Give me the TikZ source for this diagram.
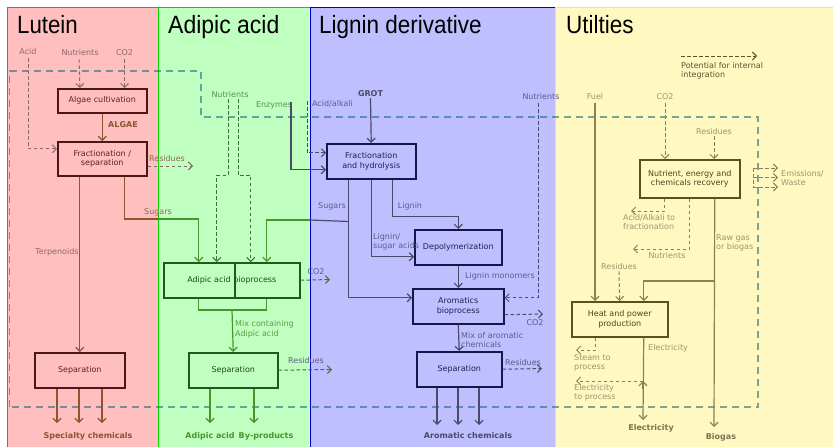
\documentclass[tikz,border=0pt]{standalone}
\usepackage{fontspec}
\setmainfont{DejaVu Sans}
\newfontfamily\titlefont{Liberation Sans}
\usetikzlibrary{arrows.meta,calc}

% panel colours
\definecolor{lutbg}{HTML}{FFBFBF}\definecolor{lutedge}{HTML}{FF3A3A}
\definecolor{adibg}{HTML}{BFFFBF}\definecolor{adiedge}{HTML}{00D800}
\definecolor{ligbg}{HTML}{BFBFFF}\definecolor{ligedge}{HTML}{0000C8}
\definecolor{utibg}{HTML}{FFF8C0}\definecolor{utiedge}{HTML}{FFEE30}
% per-process colours
\definecolor{lutbox}{HTML}{4A1616}\definecolor{luttxt}{HTML}{5A2222}
\definecolor{lutarr}{HTML}{8A5530}\definecolor{lutlab}{HTML}{8E6A5A}
\definecolor{lutin}{HTML}{8A6868}
\definecolor{adibox}{HTML}{1E5A1E}\definecolor{aditxt}{HTML}{1E4A1E}
\definecolor{adiarr}{HTML}{4A942C}\definecolor{adilab}{HTML}{5A9E42}
\definecolor{adiin}{HTML}{3E6E3E}\definecolor{adiinlab}{HTML}{5E8A5E}
\definecolor{ligbox}{HTML}{16164A}\definecolor{ligtxt}{HTML}{202050}
\definecolor{ligarr}{HTML}{4A4A6A}\definecolor{liglab}{HTML}{5C5C8A}
\definecolor{utibox}{HTML}{5A5020}\definecolor{utitxt}{HTML}{4A4420}
\definecolor{utiarr}{HTML}{8A8050}\definecolor{utilab}{HTML}{9C9670}
\definecolor{utibold}{HTML}{7A7450}\definecolor{utinote}{HTML}{5A5530}
\definecolor{integ}{HTML}{1E6E78}

\tikzset{
  tip/.style={-{Straight Barb[length=4pt,width=8pt]}},
  conn/.style={line width=1.2pt},
  sdash/.style={line width=1pt, dash pattern=on 3.5pt off 2.5pt},
  procbox/.style={draw, line width=1.5pt, rectangle, inner sep=0pt, anchor=north west, align=center},
  lbl/.style={inner sep=1pt, align=center},
  lbll/.style={inner sep=1pt, align=left, anchor=west},
  boldlbl/.style={inner sep=1pt, font=\fontsize{8}{9.5}\selectfont\bfseries},
  title/.style={anchor=base west, inner sep=0pt, font=\titlefont\fontsize{25}{25}\selectfont},
  integline/.style={draw=integ, draw opacity=0.6, line width=1.3pt, dash pattern=on 7pt off 5pt},
}

\begin{document}
\begin{tikzpicture}[x=1pt, y=-1pt, font=\fontsize{8}{9.5}\selectfont]
\useasboundingbox (0,0) rectangle (833,447);
\fill[white] (0,0) rectangle (833,447);

% ---------- panels ----------
\draw[fill=lutbg, draw=lutedge, line width=1pt] (7,7) rectangle (158,452);
\draw[fill=adibg, draw=adiedge, line width=1pt] (158,7) rectangle (310,452);
\draw[fill=ligbg, draw=ligedge, line width=1pt] (310,7) rectangle (555,452);
\draw[fill=utibg, draw=utiedge, line width=1pt] (555,7) rectangle (840,452);

\node[title] (tlut) at (17,33) {\scalebox{0.89}[1]{Lutein}};
\node[title] (tadi) at (168,33) {\scalebox{0.92}[1]{Adipic acid}};
\node[title] (tlig) at (319,33) {\scalebox{0.9}[1]{Lignin derivative}};
\node[title] (tuti) at (566,33) {\scalebox{0.9}[1]{Utilties}};

% ---------- boundary of internal integration ----------
\draw[integline] (9.5,407) -- (9.5,71) -- (201,71) -- (201,117) -- (758,117) -- (758,407) -- cycle;

% ---------- Lutein ----------
\node[procbox, draw=lutbox, text=luttxt, minimum width=89pt, minimum height=24pt] (alg) at (57,88) {Algae cultivation};
\node[procbox, draw=lutbox, text=luttxt, minimum width=89pt, minimum height=34pt] (frs) at (57,141) {Fractionation /\\separation};
\node[procbox, draw=lutbox, text=luttxt, minimum width=90pt, minimum height=35pt] (lsep) at (34,352) {Separation};

\node[lbl, text=lutin] (lacid) at (28,52) {Acid};
\node[lbl, text=lutin] (lnut) at (80,53) {Nutrients};
\node[lbl, text=lutin] (lco2) at (124.5,53) {CO2};
\draw[sdash, lutin, tip] ([yshift=-2pt]lacid.south) |- ([yshift=10pt]frs.west);
\draw[sdash, lutin, tip] ([xshift=-1pt,yshift=-2pt]lnut.south) -- (alg.north -| lnut.south);
\draw[sdash, lutin, tip] ([yshift=-2pt]lco2.south) -- (alg.north -| lco2.south);

\draw[conn, lutarr, tip] (alg.south) -- (frs.north);
\node[boldlbl, text=lutarr] (lalg) at (123,125) {ALGAE};

\draw[conn, lutarr, tip] (lsep.north |- frs.south) -- (lsep.north);
\node[lbl, text=lutlab] (lterp) at (57,252) {Terpenoids};

\coordinate (sugl) at (158,219);
\draw[conn, lutarr] ([xshift=22.5pt]frs.south) |- (sugl);
\node[lbl, text=lutlab] (lsug) at (158,212) {Sugars};

\coordinate (lres) at (193,166);
\draw[sdash, lutin, tip] (frs.east |- lres) -- (lres);
\node[lbl, text=lutlab] (lreslab) at (167,158.5) {Residues};

\node[boldlbl, text=lutarr] (lspec) at (88,436) {Specialty chemicals};
\coordinate (lo1) at (57,423);\coordinate (lo2) at (79,423);\coordinate (lo3) at (102,423);
\foreach \o in {lo1,lo2,lo3} \draw[conn, lutarr, tip] (lsep.south -| \o) -- (\o);

% ---------- Adipic acid ----------
\node[procbox, draw=adibox, text=aditxt, minimum width=136pt, minimum height=35pt] (adbio) at (163,262) {Adipic acid bioprocess};
\draw[adibox, line width=1.5pt] ([xshift=3pt]adbio.north) -- ([xshift=3pt]adbio.south);
\node[procbox, draw=adibox, text=aditxt, minimum width=89pt, minimum height=35pt] (asep) at (188,352) {Separation};

\draw[conn, adiarr, tip] (sugl) -| ([xshift=-33pt]adbio.north);

\node[lbl, text=adiinlab] (anut) at (230,95) {Nutrients};
\draw[sdash, adiin, tip] ([xshift=-2pt]anut.south) -- ++(0,76) -| ([xshift=-15pt]adbio.north);
\draw[sdash, adiin, tip] ([xshift=8pt]anut.south) -- ++(0,76) -| ([xshift=19pt]adbio.north);

\coordinate (amix) at (232,310);
\draw[conn, adiarr] ([xshift=-33pt]adbio.south) |- (amix) -| ([xshift=35pt]adbio.south);
\draw[conn, adiarr, tip] (amix) -- (asep.north);
\node[lbll, text=adilab] (amixlab) at (234,329.5) {Mix containing\\Adipic acid};

\coordinate (aco2) at (330,279.5);
\draw[sdash, adiin, tip] (adbio.east) -- (aco2);
\node[lbl, text=liglab] (aco2lab) at (316,272) {CO2};

\coordinate (ares) at (332,369.5);
\draw[sdash, adiin, tip] (asep.east) -- (ares);
\node[lbl, text=liglab] (areslab) at (306,361) {Residues};

\node[boldlbl, text=adiarr] (aout1) at (210,436) {Adipic acid};
\node[boldlbl, text=adiarr] (aout2) at (266,436) {By-products};
\coordinate (ao1) at (210,423);\coordinate (ao2) at (254,423);
\foreach \o in {ao1,ao2} \draw[conn, adiarr, tip] (asep.south -| \o) -- (\o);

% ---------- Lignin derivative ----------
\node[procbox, draw=ligbox, text=ligtxt, minimum width=89pt, minimum height=35pt] (fh) at (326,143) {Fractionation\\and hydrolysis};
\node[procbox, draw=ligbox, text=ligtxt, minimum width=87pt, minimum height=35pt] (dep) at (414,229) {Depolymerization};
\node[procbox, draw=ligbox, text=ligtxt, minimum width=91pt, minimum height=35pt] (arb) at (412,288) {Aromatics\\bioprocess};
\node[procbox, draw=ligbox, text=ligtxt, minimum width=85pt, minimum height=35pt] (gsep) at (416,351) {Separation};

\node[boldlbl, text=ligarr] (grot) at (370.5,94) {GROT};
\draw[conn, ligarr, tip] (grot.south) -- (fh.north);

\node[lbl, text=adiinlab] (enz) at (274,105) {Enzymes};
\coordinate (enzt) at (291,102);
\draw[conn, ligarr, tip] (enzt) |- ([yshift=-8.5pt]fh.west);

\node[lbl, text=liglab] (acal) at (332.5,104) {Acid/alkali};
\coordinate (acalt) at (307,101);
\draw[sdash, ligarr, tip] (acalt) |- ([yshift=8.5pt]fh.west);

\coordinate (sugr) at (310,220);
\draw[conn, ligarr, tip] ([xshift=-22.5pt]fh.south) |- ([yshift=8.5pt]arb.west);
\draw[conn, ligarr] ([xshift=-22.5pt]fh.south) ++(0,42) -- (sugr);
\draw[conn, adiarr, tip] (sugr) -| ([xshift=35pt]adbio.north);
\node[lbl, text=liglab] (gsug) at (332,206) {Sugars};

\draw[conn, ligarr, tip] (fh.south) |- ([yshift=-9.5pt]dep.west);
\node[lbll, text=liglab] (glsa) at (372,242) {Lignin/\\sugar acids};

\draw[conn, ligarr, tip] ([xshift=21.5pt]fh.south) -- ++(0,37) -| (dep.north);
\node[lbl, text=liglab] (glig) at (410,206) {Lignin};

\draw[conn, ligarr, tip] (dep.south) -- (arb.north);
\node[lbll, text=liglab] (glm) at (464,276) {Lignin monomers};

\node[lbl, text=liglab] (gnut) at (541,97) {Nutrients};
\draw[sdash, ligarr, tip] ([xshift=-3pt,yshift=-2pt]gnut.south) |- ([yshift=8.5pt]arb.east);

\coordinate (gco2) at (543,314);
\draw[sdash, ligarr, tip] ([yshift=-8.5pt]arb.east) -- (gco2);
\node[lbl, text=liglab] (gco2lab) at (535,323) {CO2};

\draw[conn, ligarr, tip] (arb.south) -- (gsep.north);
\node[lbll, text=liglab] (gmix) at (460,340) {Mix of aromatic\\chemicals};

\coordinate (gres) at (542,368.5);
\draw[sdash, ligarr, tip] (gsep.east) -- (gres);
\node[lbl, text=liglab] (greslab) at (523,363) {Residues};

\node[boldlbl, text=ligarr] (gout) at (468,436) {Aromatic chemicals};
\coordinate (go1) at (437,425);\coordinate (go2) at (458,425);\coordinate (go3) at (479,425);
\foreach \o in {go1,go2,go3} \draw[conn, ligarr, tip] (gsep.south -| \o) -- (\o);

% ---------- Utilities ----------
\coordinate (pa) at (681,56);\coordinate (pb) at (757,56);
\draw[sdash, utinote, line width=0.9pt, tip] (pa) -- (pb);
\node[inner sep=0pt, anchor=north west, align=left, text=utinote] (pot) at (681,62) {Potential for internal\\integration};

\node[procbox, draw=utibox, text=utitxt, minimum width=100pt, minimum height=38pt] (nec) at (639,159) {Nutrient, energy and\\chemicals recovery};
\node[procbox, draw=utibox, text=utitxt, minimum width=96pt, minimum height=35pt] (hp) at (571,301) {Heat and power\\production};

\node[lbl, text=utilab] (ufuel) at (595,97) {Fuel};
\draw[conn, utiarr, tip] ([yshift=-2pt]ufuel.south) -- (hp.north -| ufuel.south);

\node[lbl, text=utilab] (uco2) at (665,97) {CO2};
\draw[sdash, utiarr, tip] ([yshift=-2pt]uco2.south) -- (nec.north -| uco2.south);

\node[lbl, text=utilab] (ures1) at (714,132) {Residues};
\draw[sdash, utiarr, tip] (ures1.south) -- (nec.north -| ures1.south);

\coordinate (em1) at (753,168);\coordinate (em2) at (753,177.5);\coordinate (em3) at (753,187);
\draw[sdash, utiarr] (em1) -- (em3);
\coordinate (ew1) at (778,168);\coordinate (ew2) at (778,177.5);\coordinate (ew3) at (778,187);
\draw[sdash, utiarr, tip] (em1) -- (ew1);
\draw[sdash, utiarr, tip] (em2) -- (ew2);
\draw[sdash, utiarr, tip] (em3) -- (ew3);
\node[lbll, text=utilab] (uem) at (780,178) {Emissions/\\Waste};

\coordinate (uacid) at (631,211);
\draw[sdash, utiarr, tip] ([xshift=-25pt]nec.south) |- (uacid);
\node[inner sep=0pt, anchor=north west, align=left, text=utilab] (uacidlab) at (623,214) {Acid/Alkali to\\fractionation};

\coordinate (unut) at (633,249);
\draw[sdash, utiarr, tip] (nec.south) |- (unut);
\node[lbl, text=utilab] (unutlab) at (667,256) {Nutrients};

\coordinate (ubio) at (714,427);
\coordinate (rgj) at (714,281);
\draw[conn, utiarr, tip] ([xshift=25pt]nec.south) -- (ubio);
\draw[conn, utiarr, tip] (rgj) -| ([xshift=24pt]hp.north);
\node[lbll, text=utilab] (urg) at (715,243) {Raw gas\\or biogas};

\node[lbl, text=utilab] (ures2) at (619,267) {Residues};
\draw[sdash, utiarr, tip] (ures2.south) -- (hp.north);

\coordinate (usteam) at (576,350);
\draw[sdash, utiarr, tip] ([xshift=-24pt]hp.south) |- (usteam);
\node[inner sep=0pt, anchor=north west, align=left, text=utilab] (usteamlab) at (574,354) {Steam to\\process};

\coordinate (uel) at (643,420);
\coordinate (ej) at (643,381);
\coordinate (uelp) at (576,381);
\draw[conn, utiarr, tip] ([xshift=24pt]hp.south) -- (uel);
\draw[conn, utiarr, tip] ($(ej)+(0,8)$) -- (ej);
\draw[sdash, utiarr, tip] (ej) -- (uelp);
\node[lbll, text=utilab] (uellab) at (647,348) {Electricity};
\node[inner sep=0pt, anchor=north west, align=left, text=utilab] (uelplab) at (574,384) {Electricity\\to process};

\node[boldlbl, text=utibold] (uelout) at (651,428) {Electricity};
\node[boldlbl, text=utibold] (ubiogas) at (721,437) {Biogas};
\end{tikzpicture}
\end{document}
